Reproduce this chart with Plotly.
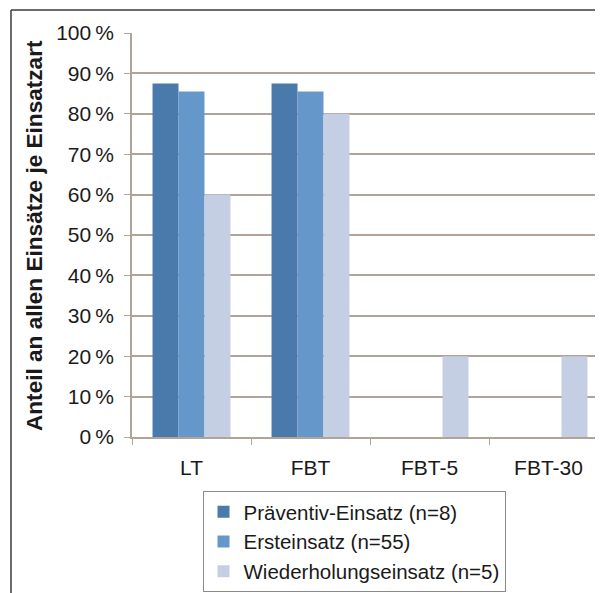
import plotly.graph_objects as go

categories = ["LT", "FBT", "FBT-5", "FBT-30"]
praeventiv = [87.5, 87.5, 0, 0]
erst = [85.5, 85.5, 0, 0]
wieder = [60, 80, 20, 20]
series_names = ["Präventiv-Einsatz (n=8)", "Ersteinsatz (n=55)", "Wiederholungseinsatz (n=5)"]
tick_vals = [0, 10, 20, 30, 40, 50, 60, 70, 80, 90, 100]
tick_text = [f"{v}\u2009%" for v in tick_vals]
y_title = "Anteil an allen Einsätze je Einsatzart"

colors = ["#4a7aab", "#6697cb", "#c4cfe3"]
FONT = "Liberation Sans, Arial, sans-serif"
OFF = 8  # default page body margin
W, H = 603, 593
L, R, T, B = 132 - OFF, 0, 33 - OFF, H - (437 - OFF)
pw = W - L - R
ph = H - T - B
CAT_W = 119
x_end = -0.5 + pw / CAT_W

fig = go.Figure()
for i, (name, vals) in enumerate(zip(series_names, [praeventiv, erst, wieder])):
    fig.add_trace(go.Bar(x=categories, y=vals, name=name, marker=dict(color=colors[i], line=dict(width=0))))

def px_x(page_px):
    return (page_px - OFF - L) / pw

def px_y(page_py):
    return (H - B - (page_py - OFF)) / ph

fig.update_layout(
    width=W, height=H,
    margin=dict(l=L, r=R, t=T, b=B, autoexpand=False),
    paper_bgcolor="white", plot_bgcolor="white",
    font=dict(family=FONT, size=21, color="#1a1a1a"),
    barmode="group", bargap=0.345, bargroupgap=0,
    showlegend=True,
    legend=dict(x=px_x(354), xanchor="center", y=px_y(491), yanchor="top",
                bordercolor="#8a8a8a", borderwidth=1, bgcolor="white",
                font=dict(size=20.5, family=FONT, color="#1a1a1a"),
                traceorder="normal", itemwidth=30),
    xaxis=dict(type="category", range=[-0.5, x_end], tickson="boundaries",
               ticks="outside", ticklen=6, tickcolor="#b0a498", showline=True,
               linecolor="#b0a498", linewidth=1.5, showgrid=False,
               tickfont=dict(size=21), ticklabelstandoff=11),
    yaxis=dict(range=[0, 100], tickvals=tick_vals, ticktext=tick_text,
               ticks="outside", ticklen=6, tickcolor="#b0a498", showline=True,
               linecolor="#b0a498", linewidth=1.5, showgrid=True,
               gridcolor="#b0a498", gridwidth=1.5, zeroline=False,
               tickfont=dict(size=21), ticklabelstandoff=6),
    annotations=[dict(text=f"<b>{y_title}</b>", xref="paper", yref="paper",
                      x=px_x(34), y=px_y(236), xanchor="center", yanchor="middle",
                      textangle=-90, showarrow=False, font=dict(size=22.6, family=FONT, color="#1a1a1a"))],
    shapes=[
        dict(type="line", xref="paper", yref="paper", x0=px_x(11), x1=px_x(620), y0=px_y(10), y1=px_y(10),
             line=dict(color="#3a3a3a", width=1.5)),
        dict(type="line", xref="paper", yref="paper", x0=px_x(11), x1=px_x(11), y0=px_y(10), y1=px_y(620),
             line=dict(color="#3a3a3a", width=1.5)),
    ],
)

fig.write_html("out.html")
